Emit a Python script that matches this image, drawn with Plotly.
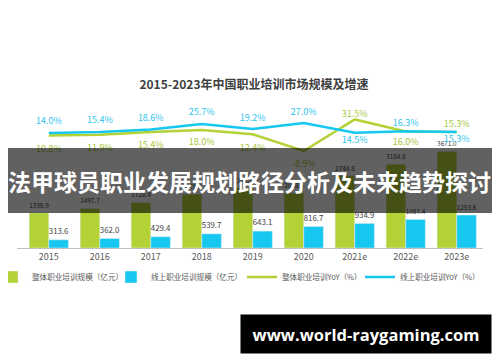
import plotly.graph_objects as go

years = ["2015", "2016", "2017", "2018", "2019", "2020", "2021e", "2022e", "2023e"]
total_size = [1338.9, 1497.7, 1728.4, 2039.5, 2292.4, 2088.4, 2744.8, 3184.8, 3671.0]
online_size = [313.6, 362.0, 429.4, 539.7, 643.1, 816.7, 934.9, 1087.4, 1253.6]
total_yoy = [10.8, 11.9, 15.4, 18.0, 12.4, -8.9, 31.5, 16.0, 15.3]
online_yoy = [14.0, 15.4, 18.6, 25.7, 19.2, 27.0, 14.5, 16.3, 15.3]

GREEN = "#b2d235"
BLUE = "#16c7f0"
FONT = "Noto Sans CJK SC"

# page body has an 8px margin: figure is drawn at (8, 8) in the 500x362 window
OFF = 8
W, H = 500 - OFF, 362 - OFF
# plot area in window pixels: x 17..483, y 95..248
PX0, PX1, PY0, PY1 = 17, 483, 95, 248
L, R = PX0 - OFF, W - (PX1 - OFF)
T, B = PY0 - OFF, H - (PY1 - OFF)
pw, ph = PX1 - PX0, PY1 - PY0


def px_x(x):
    return (x - PX0) / pw


def px_y(y):
    return (PY1 - y) / ph


def cont_y(y):
    return 1 - (y - OFF) / H


fig = go.Figure()
fig.add_trace(go.Bar(
    x=years, y=total_size, name="整体职业培训规模（亿元）",
    marker=dict(color=GREEN), text=[f"{v:.1f}" for v in total_size],
    textposition="outside", textfont=dict(size=9, color="#404040"),
    cliponaxis=False, legend="legend",
))
fig.add_trace(go.Bar(
    x=years, y=online_size, name="线上职业培训规模（亿元）",
    marker=dict(color=BLUE), text=[f"{v:.1f}" for v in online_size],
    textposition="outside", textfont=dict(size=9, color="#404040"),
    cliponaxis=False, legend="legend2",
))
green_pos = ["bottom center"] * 6 + ["top center", "bottom center", "top center"]
blue_pos = ["top center"] * 6 + ["bottom center", "top center", "bottom center"]
# invisible marker sizes only set the label offset from the line
green_gap = [13.6, 13.6, 13.6, 12, 13.6, 13.6, 0, 9.6, 2.4]
blue_gap = [8.8, 8.8, 8.8, 8.8, 7.2, 7.2, 4, 4, 4]
fig.add_trace(go.Scatter(
    x=years, y=total_yoy, name="整体职业培训YoY（%）", yaxis="y2",
    mode="lines+markers+text", line=dict(color=GREEN, width=2.5),
    marker=dict(size=green_gap, color="rgba(0,0,0,0)", line=dict(width=0)),
    text=[f"{v:.1f}%" for v in total_yoy], textposition=green_pos,
    textfont=dict(size=9, color="#a8c83c"), cliponaxis=False, legend="legend3",
))
fig.add_trace(go.Scatter(
    x=years, y=online_yoy, name="线上职业培训YoY（%）", yaxis="y2",
    mode="lines+markers+text", line=dict(color=BLUE, width=2.5),
    marker=dict(size=blue_gap, color="rgba(0,0,0,0)", line=dict(width=0)),
    text=[f"{v:.1f}%" for v in online_yoy], textposition=blue_pos,
    textfont=dict(size=9, color="#2ec4ee"), cliponaxis=False, legend="legend4",
))

leg_common = dict(orientation="h", yref="container", y=cont_y(277), yanchor="middle",
                  xanchor="left", font=dict(size=7.6, color="#595959", family=FONT),
                  itemwidth=30, traceorder="normal", bgcolor="rgba(0,0,0,0)",
                  borderwidth=0)

fig.update_layout(
    width=W, height=H,
    margin=dict(l=L, r=R, t=T, b=B, pad=0, autoexpand=False),
    paper_bgcolor="white", plot_bgcolor="white",
    font=dict(family=FONT, color="#595959", size=9),
    barmode="group", bargap=0.23, bargroupgap=0,
    title=dict(text="<b>2015-2023年中国职业培训市场规模及增速</b>",
               x=0.5, xanchor="center", yref="container", y=cont_y(85), yanchor="middle",
               font=dict(size=12, color="#404040", family=FONT)),
    xaxis=dict(showline=True, linecolor="#bfbfbf", linewidth=1, ticks="",
               showgrid=False, tickfont=dict(size=9, color="#595959")),
    yaxis=dict(range=[0, 5817], visible=False, showgrid=False),
    yaxis2=dict(range=[-133.3, 62.8], overlaying="y", visible=False, showgrid=False),
    legend=dict(**leg_common, x=px_x(-8)),
    legend2=dict(**leg_common, x=px_x(111)),
    legend3=dict(**leg_common, x=px_x(242)),
    legend4=dict(**leg_common, x=px_x(360)),
    showlegend=True,
)

# dark banner overlay
fig.add_shape(type="rect", xref="paper", yref="paper",
              x0=px_x(8), x1=px_x(492), y0=px_y(213), y1=px_y(148),
              fillcolor="rgba(0,0,0,0.62)", line=dict(width=0), layer="above")
fig.add_annotation(xref="paper", yref="paper", x=px_x(249), y=px_y(181),
                   text="<b>法甲球员职业发展规划路径分析及未来趋势探讨</b>",
                   showarrow=False, font=dict(size=23, color="white", family=FONT),
                   xanchor="center", yanchor="middle")
# watermark box
fig.add_annotation(xref="paper", yref="paper", x=px_x(366), y=px_y(334),
                   text="<b>www.world-raygaming.com</b>", showarrow=False,
                   font=dict(size=16.5, color="white", family="Open Sans"),
                   bgcolor="black", width=250, height=38, borderpad=0,
                   xanchor="center", yanchor="middle")

fig.write_html("out.html")
